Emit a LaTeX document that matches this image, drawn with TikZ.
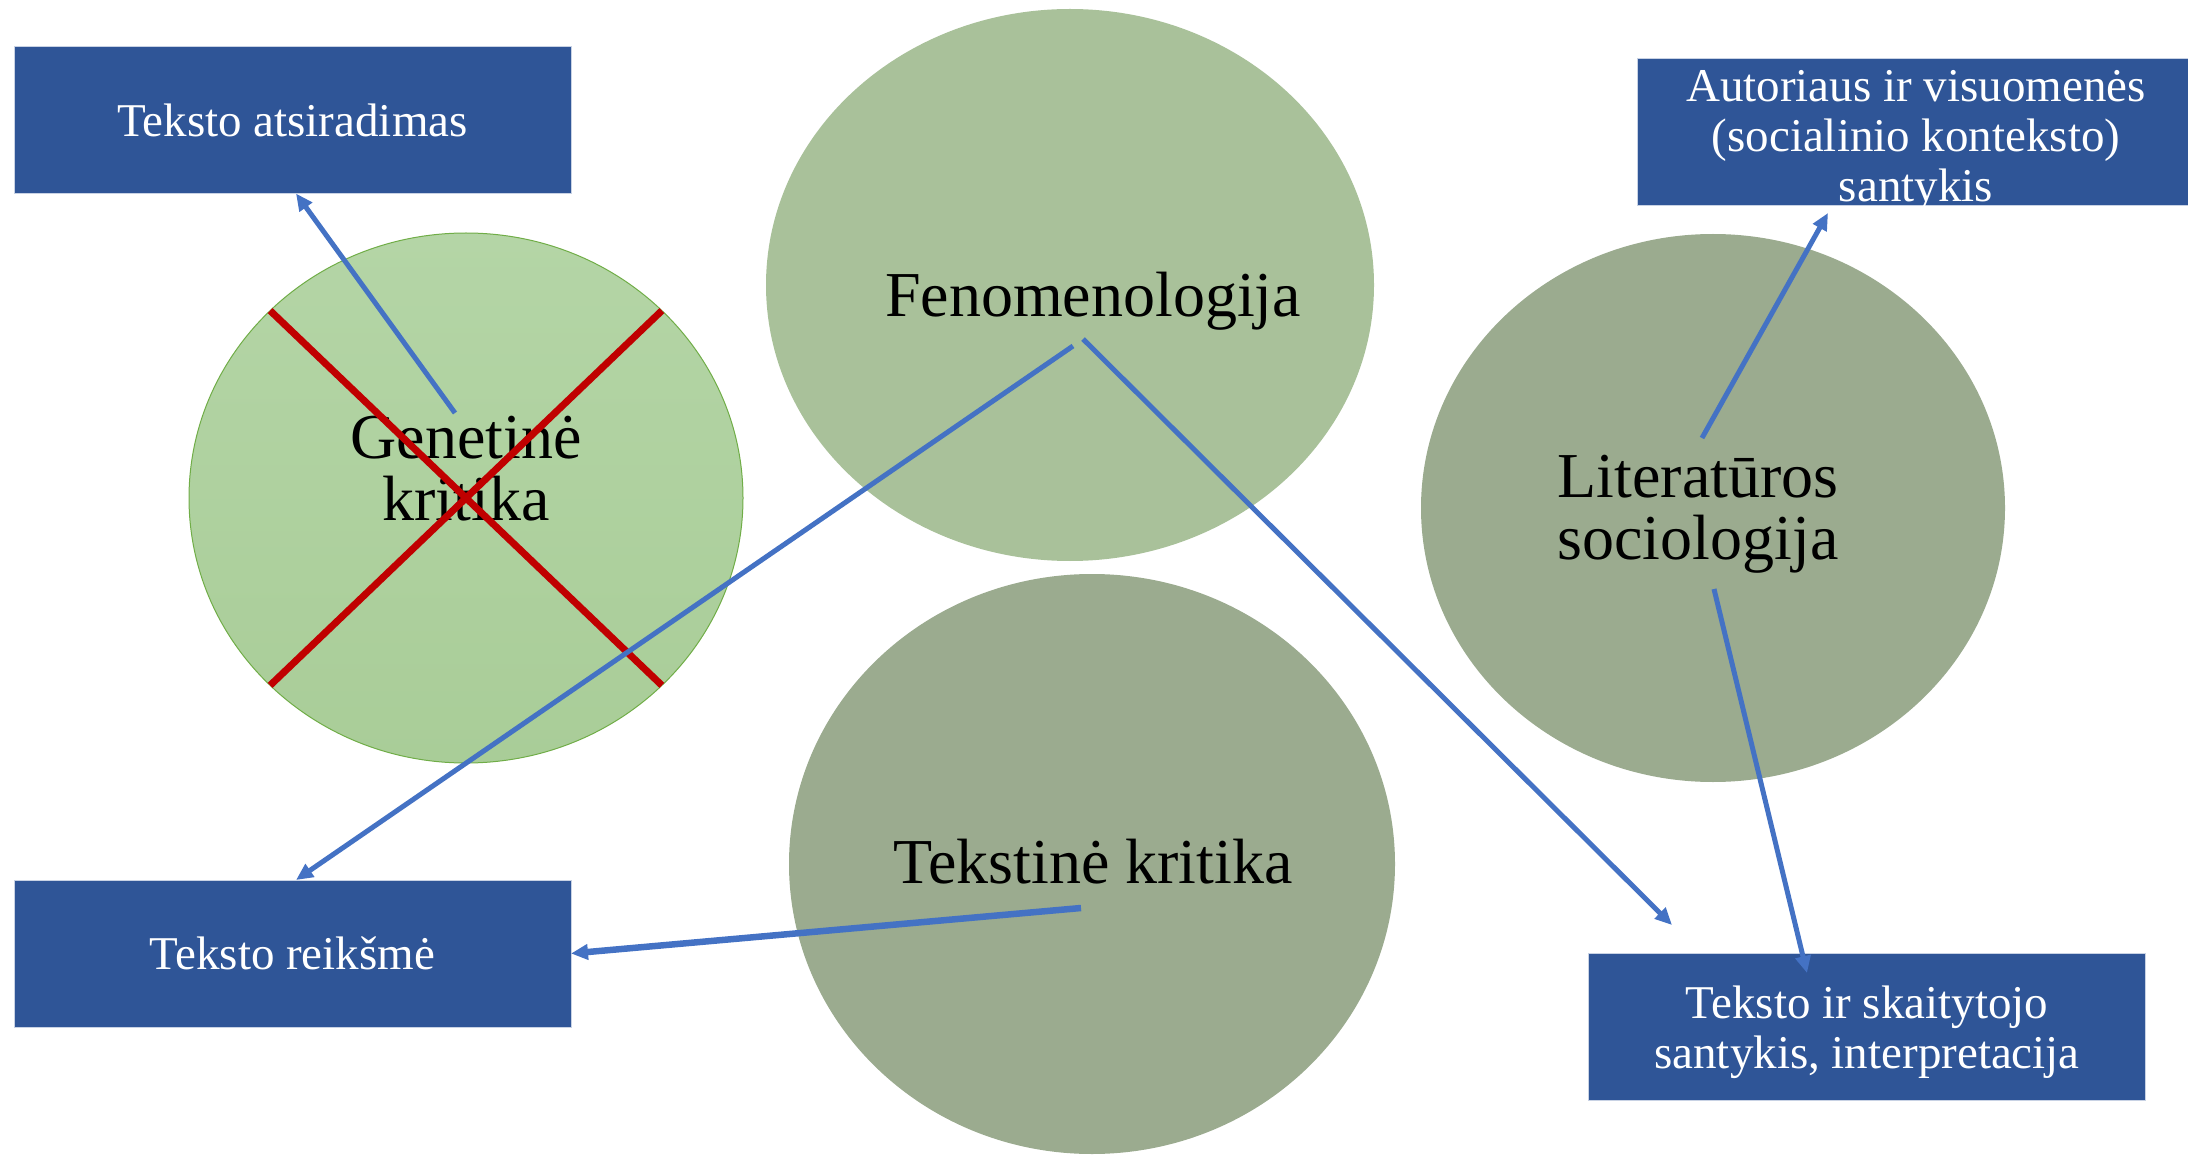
\documentclass[tikz,border=0pt]{standalone}
\usepackage{fontspec}
\setmainfont{Liberation Serif}
\usetikzlibrary{shapes.geometric,arrows.meta,calc}
\definecolor{boxblue}{RGB}{47,85,151}
\definecolor{boxedge}{RGB}{200,210,228}
\definecolor{fenfill}{RGB}{169,193,154}
\definecolor{darkfill}{RGB}{155,171,143}
\definecolor{gentop}{RGB}{180,213,166}
\definecolor{genbot}{RGB}{169,205,152}
\definecolor{genedge}{RGB}{112,173,71}
\definecolor{arrblue}{RGB}{68,114,196}
\definecolor{crossred}{RGB}{192,0,0}
\tikzset{
 bluebox/.style={rectangle, fill=boxblue, draw=boxedge, line width=1pt, minimum width=557pt, minimum height=147pt, inner sep=0pt, outer sep=0pt, text=white, align=center, font=\fontsize{47}{50}\selectfont},
 blob/.style={ellipse, inner sep=0pt, outer sep=0pt},
 bigtext/.style={align=center, font=\fontsize{64}{62}\selectfont, inner sep=0pt},
 conn/.style={draw=arrblue, line width=5pt, -{Triangle[length=17pt,width=15pt]}},
 cross/.style={draw=crossred, line width=7pt},
}
\begin{document}
\begin{tikzpicture}[x=1pt,y=-1pt]
\useasboundingbox (0,0) rectangle (2188,1155);
% ellipses
\node[blob, minimum width=554pt, minimum height=530pt, draw=genedge, line width=1pt, top color=gentop, bottom color=genbot] (gen) at (466,498) {};
\node[blob, minimum width=608pt, minimum height=552pt, fill=fenfill] (fen) at (1070,285) {};
\node[blob, minimum width=606pt, minimum height=580pt, fill=darkfill] (tek) at (1092,864) {};
\node[blob, minimum width=584pt, minimum height=548pt, fill=darkfill] (lit) at (1713,508) {};
% texts
\node[bigtext] (gent) at (466,469) {Genetinė\\kritika};
\node[bigtext] (fent) at (1093,301) {Fenomenologija};
\node[bigtext] (tekt) at (1093,862) {Tekstinė kritika};
\node[bigtext] (litt) at (1698,514) {Literatūros\\sociologija};
% boxes
\node[bluebox] (ta) at (292.5,120) {Teksto atsiradimas};
\node[bluebox] (tr) at (292.5,953.5) {Teksto reikšmė};
\node[bluebox] (av) at (1915.5,132.5) {};
\node[text=white, align=center, font=\fontsize{47}{50}\selectfont, inner sep=0pt] (avt) at (1916,141) {Autoriaus ir visuomenės\\(socialinio konteksto)\\santykis};
\node[bluebox] (ts) at (1867,1027) {};
\node[text=white, align=center, font=\fontsize{47}{50}\selectfont, inner sep=0pt] (tst) at (1867,1032) {Teksto ir skaitytojo\\santykis, interpretacija};
% cross
\draw[cross] (gen.north west) -- (gen.south east);
\draw[cross] (gen.north east) -- (gen.south west);
% free ends
\coordinate (e3) at (1672,925);
\coordinate (e5) at (1828,213);
\coordinate (e6) at (1807,973);
% arrows
\draw[conn] ($(gen.center)+(-11,-85)$) -- ([xshift=3.5pt]ta.south);
\draw[conn] ($(fen.center)+(3,61)$) -- ([xshift=3.5pt]tr.north);
\draw[conn] ($(fen.center)+(13,54)$) -- (e3);
\draw[conn, line width=6.5pt] ($(tek.center)+(-11,44)$) -- (tr.east);
\draw[conn] ($(lit.center)+(-11,-70)$) -- (e5);
\draw[conn] ($(lit.center)+(1,81)$) -- (e6);
\end{tikzpicture}
\end{document}
